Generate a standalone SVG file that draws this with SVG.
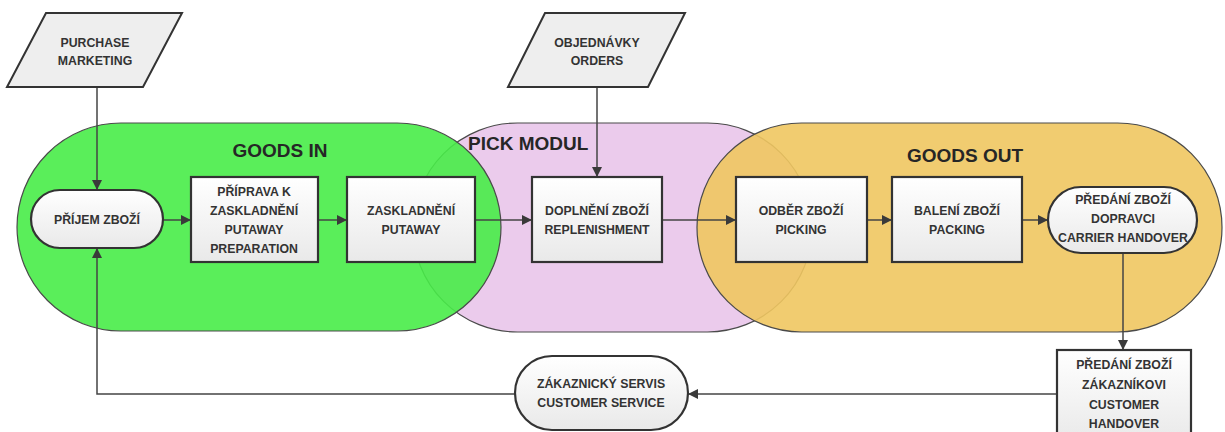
<svg xmlns="http://www.w3.org/2000/svg" width="1225" height="432" viewBox="0 0 1225 432">
<defs>
<linearGradient id="boxg" x1="0" y1="0" x2="0" y2="1"><stop offset="0" stop-color="#ffffff"/><stop offset="1" stop-color="#e9e9e9"/></linearGradient>
<marker id="ah" viewBox="0 0 10 10" refX="10" refY="5" markerWidth="10" markerHeight="10" markerUnits="userSpaceOnUse" orient="auto"><path d="M0,0 L10,5 L0,10 z" fill="#3a3a3a"/></marker>
<style>
.zone{stroke:#4a4a4a;stroke-width:1.2}
.box{fill:url(#boxg);stroke:#333;stroke-width:2.2}
.para{fill:#eeeeee;stroke:#333;stroke-width:2}
.t{font-family:"Liberation Sans",Arial,sans-serif;font-weight:bold;font-size:12.3px;fill:#333;text-anchor:middle}
.title{font-family:"Liberation Sans",Arial,sans-serif;font-weight:bold;font-size:19px;fill:#262626}
.c{fill:none;stroke:#444;stroke-width:1.5}
</style>
</defs>
<g id="zones">
<rect id="pick-modul" class="zone" x="413" y="123" width="399" height="209" rx="104.5" fill="#ebcbec"/>
<rect id="goods-in" class="zone" x="17" y="123" width="484" height="208" rx="104" fill="#48ec48" fill-opacity="0.9"/>
<rect id="goods-out" class="zone" x="697" y="123" width="525" height="209" rx="104.5" fill="#efc760" fill-opacity="0.9"/>
<text class="title" x="280" y="157" text-anchor="middle">GOODS IN</text>
<text class="title" x="468" y="150">PICK MODUL</text>
<text class="title" x="965" y="162" text-anchor="middle">GOODS OUT</text>
</g>
<g id="connectors">
<path class="c" d="M97,87 V190" marker-end="url(#ah)"/>
<path class="c" d="M597,87 V177" marker-end="url(#ah)"/>
<path class="c" d="M163,220 H191" marker-end="url(#ah)"/>
<path class="c" d="M318,220 H347" marker-end="url(#ah)"/>
<path class="c" d="M475,220 H532" marker-end="url(#ah)"/>
<path class="c" d="M662,220 H736" marker-end="url(#ah)"/>
<path class="c" d="M867,220 H892" marker-end="url(#ah)"/>
<path class="c" d="M1022,220 H1048" marker-end="url(#ah)"/>
<path class="c" d="M1123,253 V350" marker-end="url(#ah)"/>
<path class="c" d="M1057,394 H688" marker-end="url(#ah)"/>
<path class="c" d="M515,394 H97 V248" marker-end="url(#ah)"/>
</g>
<g id="purchase">
<polygon class="para" points="46,13 182,13 143,87 7,87"/>
<text class="t" x="95" y="47">PURCHASE</text>
<text class="t" x="95" y="65">MARKETING</text>
</g>
<g id="objednavky">
<polygon class="para" points="545,13 685,13 648,87 508,87"/>
<text class="t" x="597" y="47">OBJEDNÁVKY</text>
<text class="t" x="597" y="65">ORDERS</text>
</g>
<g id="prijem">
<rect class="box" x="31" y="190" width="132" height="58" rx="29"/>
<text class="t" x="97" y="224">PŘÍJEM ZBOŽÍ</text>
</g>
<g id="priprava">
<rect class="box" x="191" y="177" width="127" height="85"/>
<text class="t" x="254" y="196">PŘÍPRAVA K</text>
<text class="t" x="254" y="215">ZASKLADNĚNÍ</text>
<text class="t" x="254" y="234">PUTAWAY</text>
<text class="t" x="254" y="253">PREPARATION</text>
</g>
<g id="zaskladneni">
<rect class="box" x="347" y="177" width="128" height="85"/>
<text class="t" x="411" y="215">ZASKLADNĚNÍ</text>
<text class="t" x="411" y="234">PUTAWAY</text>
</g>
<g id="doplneni">
<rect class="box" x="532" y="177" width="130" height="85"/>
<text class="t" x="597" y="215">DOPLNĚNÍ ZBOŽÍ</text>
<text class="t" x="597" y="234">REPLENISHMENT</text>
</g>
<g id="odber">
<rect class="box" x="736" y="177" width="131" height="85"/>
<text class="t" x="801" y="215">ODBĚR ZBOŽÍ</text>
<text class="t" x="801" y="234">PICKING</text>
</g>
<g id="baleni">
<rect class="box" x="892" y="177" width="130" height="85"/>
<text class="t" x="957" y="215">BALENÍ ZBOŽÍ</text>
<text class="t" x="957" y="234">PACKING</text>
</g>
<g id="predani-dopravci">
<rect class="box" x="1048" y="187" width="149" height="66" rx="33"/>
<text class="t" x="1123" y="204">PŘEDÁNÍ ZBOŽÍ</text>
<text class="t" x="1123" y="223">DOPRAVCI</text>
<text class="t" x="1123" y="242">CARRIER HANDOVER</text>
</g>
<g id="predani-zakaznikovi">
<rect class="box" x="1057" y="350" width="134" height="92"/>
<text class="t" x="1124" y="369">PŘEDÁNÍ ZBOŽÍ</text>
<text class="t" x="1124" y="389">ZÁKAZNÍKOVI</text>
<text class="t" x="1124" y="409">CUSTOMER</text>
<text class="t" x="1124" y="428">HANDOVER</text>
</g>
<g id="zakaznicky-servis">
<rect class="box" x="515" y="356" width="173" height="74" rx="37"/>
<text class="t" x="601" y="388">ZÁKAZNICKÝ SERVIS</text>
<text class="t" x="601" y="407">CUSTOMER SERVICE</text>
</g>
</svg>
